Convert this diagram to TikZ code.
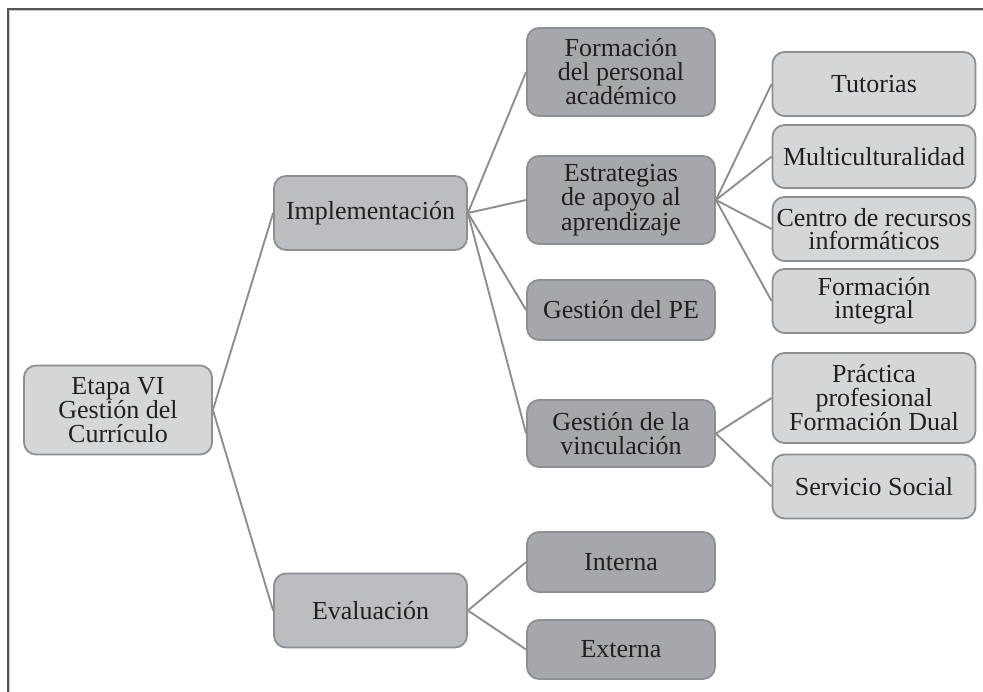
\documentclass[tikz,border=0pt]{standalone}
\usepackage{fontspec}
\setmainfont{Liberation Serif}
\definecolor{lightfill}{HTML}{D5D6D8}
\definecolor{midfill}{HTML}{BCBDC0}
\definecolor{darkfill}{HTML}{A6A7AA}
\definecolor{boxline}{HTML}{8E8F91}
\definecolor{conn}{HTML}{8E8E8E}
\definecolor{txt}{HTML}{231F20}
\definecolor{frame}{HTML}{555555}
\tikzset{
  box/.style={draw=boxline, line width=1.8pt, rounded corners=12pt, align=center,
    inner sep=1pt, text=txt, font=\fontsize{26}{23.5}\selectfont},
  rootbox/.style={box, fill=lightfill, minimum width=188pt, minimum height=89pt},
  lonebox/.style={box, fill=midfill, minimum width=193pt, minimum height=74pt},
  ltwobox/.style={box, fill=darkfill, minimum width=188pt},
  lthreebox/.style={box, fill=lightfill, minimum width=203pt},
  link/.style={draw=conn, line width=1.9pt}
}
\begin{document}
\begin{tikzpicture}[x=1pt,y=-1pt]
\useasboundingbox (0,0) rectangle (983,692);
% frame
\draw[frame, line width=2pt] (8,692) -- (8,9) -- (983,9);
\draw[white!70!frame, line width=0.8pt] (9.8,692) -- (9.8,10.8) -- (983,10.8);

\node[rootbox] (root) at (118,410) {Etapa VI\\Gestión del\\Currículo};
\node[lonebox] (impl) at (370.5,213) {Implementación};
\node[lonebox] (eval) at (370.5,610.5) {Evaluación};

\node[ltwobox, minimum height=88pt] (form) at (621,72) {Formación\\del personal\\académico};
\node[ltwobox, minimum height=88pt] (estr) at (621,200) {Estrategias\\de apoyo al\\aprendizaje};
\node[ltwobox, minimum height=60pt] (gpe) at (621,310) {Gestión del PE};
\node[ltwobox, minimum height=67pt] (vinc) at (621,433.5) {Gestión de la\\vinculación};
\node[ltwobox, minimum height=60pt] (inte) at (621,562) {Interna};
\node[ltwobox, minimum height=59pt] (exte) at (621,649.5) {Externa};

\node[lthreebox, minimum height=64pt] (tut) at (874,84) {Tutorias};
\node[lthreebox, minimum height=63pt] (mul) at (874,156.5) {Multiculturalidad};
\node[lthreebox, minimum height=64pt] (cen) at (874,229) {Centro de recursos\\informáticos};
\node[lthreebox, minimum height=64pt] (fin) at (874,301) {Formación\\integral};
\node[lthreebox, minimum height=90pt] (pra) at (874,398) {Práctica\\profesional\\Formación Dual};
\node[lthreebox, minimum height=64pt] (ser) at (874,486.5) {Servicio Social};

\foreach \a/\b in {root/impl, root/eval, impl/form, impl/estr, impl/gpe, impl/vinc,
  eval/inte, eval/exte, estr/tut, estr/mul, estr/cen, estr/fin, vinc/pra, vinc/ser}
  \draw[link] (\a.east) -- (\b.west);
\end{tikzpicture}
\end{document}
